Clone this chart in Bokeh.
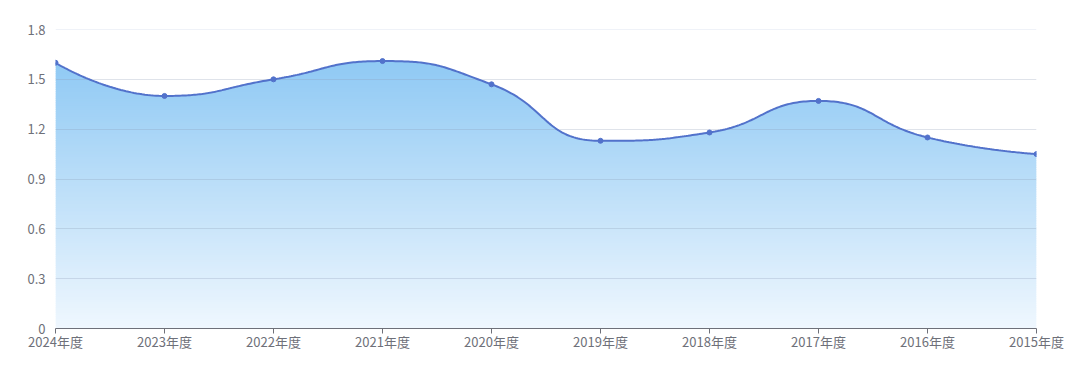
import numpy as np
from bokeh.plotting import figure
from bokeh.models import Range1d, FixedTicker, Span
from bokeh.embed import file_html
from bokeh.resources import INLINE

# ---- data ----
categories = ["2024年度", "2023年度", "2022年度", "2021年度", "2020年度",
              "2019年度", "2018年度", "2017年度", "2016年度", "2015年度"]
values = [1.60, 1.40, 1.50, 1.61, 1.47, 1.13, 1.18, 1.37, 1.15, 1.05]
y_ticks = [0, 0.3, 0.6, 0.9, 1.2, 1.5, 1.8]
y_tick_labels = ["0", "0.3", "0.6", "0.9", "1.2", "1.5", "1.8"]

W, H = 1080, 366
LEFT, RIGHT, TOP, BOTTOM = 55, 44, 29, 38
frame_w = W - LEFT - RIGHT
frame_h = H - TOP - BOTTOM
ymax = y_ticks[-1]
nx = len(categories) - 1

xs = np.arange(len(categories), dtype=float)
ys = np.array(values, dtype=float)

# ---- smooth curve (echarts-like, computed in pixel space) ----
sx = frame_w / nx
sy = frame_h / ymax
P = np.column_stack([xs * sx, ys * sy])


def smooth_path(pts, smooth=0.5):
    n = len(pts)
    segs = []
    cp0 = pts[0].copy()
    prev = pts[0]
    for k in range(1, n):
        cur = pts[k]
        if k >= n - 1:
            cp1 = cur.copy()
            nxt_cp0 = cur.copy()
        else:
            nxt = pts[k + 1]
            v = nxt - prev
            d0 = cur - prev
            d1 = nxt - cur
            lp = np.hypot(*d0)
            ln = np.hypot(*d1)
            r = ln / (ln + lp)
            nxt_cp0 = cur + v * smooth * r
            nxt_cp0 = np.minimum(nxt_cp0, np.maximum(nxt, cur))
            nxt_cp0 = np.maximum(nxt_cp0, np.minimum(nxt, cur))
            v = nxt_cp0 - cur
            cp1 = cur - v * lp / ln
            cp1 = np.minimum(cp1, np.maximum(prev, cur))
            cp1 = np.maximum(cp1, np.minimum(prev, cur))
            v = cur - cp1
            nxt_cp0 = cur + v * ln / lp
        segs.append((prev.copy(), cp0.copy(), cp1.copy(), cur.copy()))
        cp0 = nxt_cp0
        prev = cur
    out = []
    t = np.linspace(0, 1, 60)[:, None]
    for i, (a, b, c, d) in enumerate(segs):
        pts_ = ((1 - t) ** 3) * a + 3 * ((1 - t) ** 2) * t * b + 3 * (1 - t) * t ** 2 * c + t ** 3 * d
        if i > 0:
            pts_ = pts_[1:]
        out.append(pts_)
    return np.vstack(out)


curve = smooth_path(P)
cx = curve[:, 0] / sx
cy = curve[:, 1] / sy

p = figure(width=W, height=H, x_range=Range1d(0, nx), y_range=Range1d(0, ymax),
           output_backend="svg", toolbar_location=None,
           min_border_left=LEFT, min_border_right=RIGHT,
           min_border_top=TOP, min_border_bottom=BOTTOM,
           background_fill_color="white", border_fill_color="white")
p.outline_line_color = None

# ---- gradient area as stacked horizontal bands under the curve ----
top_c = np.array([143, 201, 244], dtype=float)
bot_c = np.array([239, 247, 254], dtype=float)
peak = float(np.max(cy))
nb = 120
edges = np.linspace(0, peak, nb + 1)
ov = (edges[1] - edges[0]) * 0.6
for i in range(nb):
    lo, hi = edges[i], edges[i + 1]
    t = (lo + hi) / 2 / peak
    c = bot_c + (top_c - bot_c) * t
    col = "#%02x%02x%02x" % tuple(int(round(v)) for v in c)
    y1 = np.minimum(cy, lo)
    y2 = np.minimum(cy, hi + ov)
    r = p.varea(x=cx, y1=y1, y2=y2, fill_color=col)
    r.level = "image"

# ---- line and points ----
line_color = "#5272cb"
p.line(cx, cy, line_color=line_color, line_width=2)
p.scatter(xs, ys, size=5, fill_color=line_color, line_color=line_color)

# ---- axes ----
font = "Noto Sans CJK SC"
lab_color = "#6e7079"

p.xgrid.visible = False
p.ygrid.ticker = FixedTicker(ticks=y_ticks)
p.ygrid.grid_line_color = "#8d9ab5"
p.ygrid.grid_line_alpha = 0.28
p.ygrid.grid_line_width = 1
p.add_layout(Span(location=ymax, dimension="width", line_color="#e0e6f1", line_width=1))

xa = p.xaxis[0]
xa.ticker = FixedTicker(ticks=list(xs))
xa.major_label_overrides = {float(i): c for i, c in enumerate(categories)}
xa.axis_line_color = lab_color
xa.major_tick_line_color = lab_color
xa.major_tick_in = 0
xa.major_tick_out = 5
xa.minor_tick_line_color = None
xa.major_label_standoff = -2
xa.major_label_text_font = font
xa.major_label_text_font_size = "13px"
xa.major_label_text_color = lab_color

ya = p.yaxis[0]
ya.ticker = FixedTicker(ticks=y_ticks)
ya.major_label_overrides = {float(t): s for t, s in zip(y_ticks, y_tick_labels)}
ya.axis_line_color = None
ya.major_tick_line_color = None
ya.minor_tick_line_color = None
ya.major_tick_in = 0
ya.major_tick_out = 0
ya.major_label_standoff = 10
ya.major_label_text_font = font
ya.major_label_text_font_size = "13px"
ya.major_label_text_color = lab_color

open("out.html", "w").write(file_html(p, INLINE))
